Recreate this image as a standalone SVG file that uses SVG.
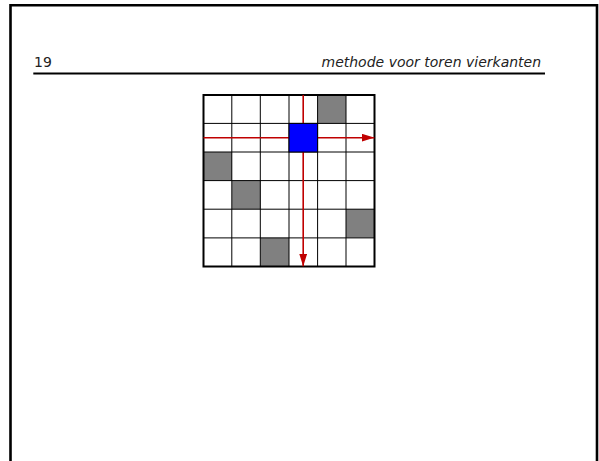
<svg xmlns="http://www.w3.org/2000/svg" width="599" height="461" viewBox="0 0 599 461">
<style>
.hdr{font-family:"DejaVu Sans","Liberation Sans",sans-serif;font-size:14px;fill:#222}
.gray{fill:#808080}
.red{stroke:#c00000;stroke-width:1.6;fill:none}
</style>
<defs>
<marker id="ah" viewBox="0 0 12.6 8" refX="12.6" refY="4" markerWidth="12.6" markerHeight="8" markerUnits="userSpaceOnUse" orient="auto">
<path d="M0,0 L12.6,4 L0,8 Z" fill="#c00000"/>
</marker>
</defs>
<rect width="599" height="461" fill="#fff"/>
<path d="M10.5,470 V5.2 H597 V470" fill="none" stroke="#000" stroke-width="2.6"/>
<g id="header">
<text class="hdr" x="34" y="66.5">19</text>
<text class="hdr" x="321.5" y="66.5" font-style="oblique">methode voor toren vierkanten</text>
<line x1="33.3" y1="73.5" x2="545" y2="73.5" stroke="#000" stroke-width="2"/>
</g>
<g id="board">
<rect x="203.5" y="95" width="171" height="171.5" fill="#fff"/>
<rect class="gray" x="317.5" y="95" width="28.5" height="28.5"/>
<rect class="gray" x="203.5" y="152" width="28.5" height="28.6"/>
<rect class="gray" x="232" y="180.6" width="28.5" height="28.6"/>
<rect class="gray" x="346" y="209.2" width="28.5" height="28.6"/>
<rect class="gray" x="260.5" y="237.8" width="28.5" height="28.7"/>
<g stroke="#000" stroke-width="1" fill="none">
<path d="M231.8,95 V266.5 M260.3,95 V266.5 M289,95 V266.5 M317.6,95 V266.5 M346,95 V266.5"/>
<path d="M203.5,123.4 H374.5 M203.5,152 H374.5 M203.5,180.6 H374.5 M203.5,209.2 H374.5 M203.5,237.9 H374.5"/>
</g>
<rect x="203.5" y="95" width="171" height="171.5" fill="none" stroke="#000" stroke-width="2"/>
</g>
<g id="connectors">
<line class="red" x1="203.5" y1="137.7" x2="374.3" y2="137.7" marker-end="url(#ah)"/>
<line class="red" x1="303.2" y1="95" x2="303.2" y2="266.3" marker-end="url(#ah)"/>
</g>
<g id="queen">
<rect x="289" y="123.4" width="28.6" height="28.6" fill="#0000ff" stroke="#000" stroke-width="1"/>
</g>
</svg>
